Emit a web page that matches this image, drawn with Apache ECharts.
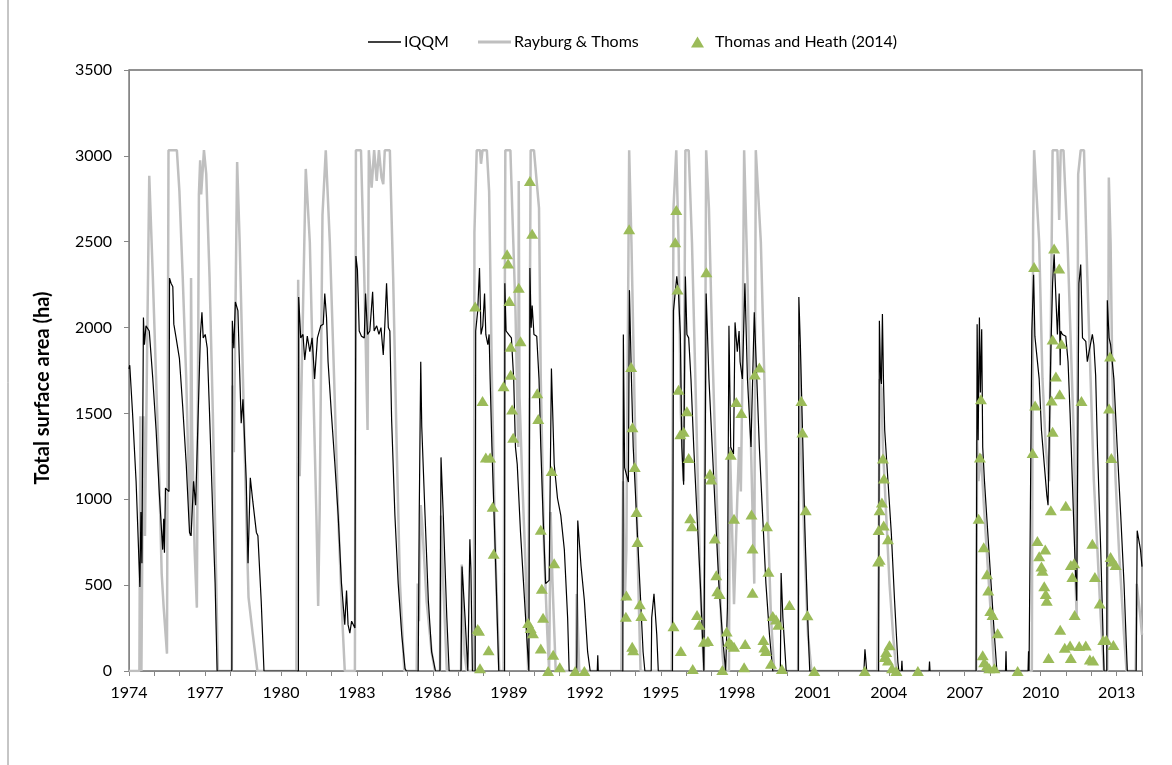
<!DOCTYPE html>
<html>
<head>
<meta charset="utf-8">
<script src="https://cdn.jsdelivr.net/npm/echarts@6/dist/echarts.min.js"></script>
<style>
html,body{margin:0;padding:0;background:#fff;}
#chart{width:1172px;height:765px;}
</style>
</head>
<body>
<div id="chart"></div>
<script>
// ---- data: [year, total surface area (ha)] ----
const iqqm = [
[1974.00,1760],[1974.03,1781],[1974.14,1503],[1974.28,1105],[1974.43,489],[1974.47,926],[1974.51,628],[1974.57,2059],[1974.61,1900],[1974.67,2010],[1974.80,1980],[1974.94,1701],[1975.07,1403],[1975.20,1026],[1975.33,707],[1975.37,886],[1975.40,688],[1975.44,1065],[1975.58,1045],[1975.60,2288],[1975.66,2258],[1975.73,2238],[1975.77,2020],[1975.86,1940],[1975.99,1821],[1976.12,1542],[1976.26,1204],[1976.39,807],[1976.45,787],[1976.55,1105],[1976.63,966],[1976.82,1960],[1976.88,2089],[1976.93,1940],[1977.01,1960],[1977.09,1880],[1977.18,1503],[1977.31,906],[1977.40,509],[1977.48,0],
[1978.06,0],[1978.08,2039],[1978.14,1880],[1978.20,2149],[1978.30,2099],[1978.43,1443],[1978.50,1582],[1978.63,1105],[1978.70,628],[1978.79,1125],[1978.89,986],[1979.03,807],[1979.09,787],[1979.22,409],[1979.33,0],
[1980.69,0],[1980.70,2178],[1980.78,1940],[1980.87,1960],[1980.94,1811],[1981.04,1950],[1981.14,1860],[1981.23,1940],[1981.33,1701],[1981.44,1940],[1981.57,2010],[1981.67,2020],[1981.73,2198],[1981.80,2059],[1981.86,1801],[1981.99,1503],[1982.13,1204],[1982.26,906],[1982.39,509],[1982.52,270],[1982.59,469],[1982.65,270],[1982.72,220],[1982.79,290],[1982.92,250],
[1982.96,2417],[1983.02,2338],[1983.09,1980],[1983.18,1950],[1983.29,1940],[1983.34,2198],[1983.42,1960],[1983.51,1980],[1983.62,2208],[1983.68,1980],[1983.78,2010],[1983.87,1960],[1983.95,2000],[1984.04,1841],[1984.10,2010],[1984.17,2258],[1984.24,2000],[1984.30,1980],[1984.37,1463],[1984.50,906],[1984.63,509],[1984.77,211],[1984.90,14],[1984.95,0],
[1985.42,0],[1985.46,906],[1985.52,1801],[1985.56,1423],[1985.69,906],[1985.82,409],[1985.95,111],[1986.10,0],
[1986.28,0],[1986.32,1244],[1986.41,906],[1986.55,310],[1986.64,0],
[1987.11,0],[1987.15,608],[1987.27,310],[1987.38,0],
[1987.42,0],[1987.46,767],[1987.50,600],[1987.56,0],
[1987.67,0],[1987.69,1980],[1987.77,2099],[1987.84,2347],[1987.90,1960],[1987.97,2010],[1988.04,2198],[1988.09,1960],[1988.17,1900],[1988.22,1960],[1988.26,1701],[1988.33,1304],[1988.46,707],[1988.60,0],
[1988.83,0],[1988.84,2258],[1988.89,1980],[1988.99,1960],[1989.10,1940],[1989.19,1701],[1989.26,1304],[1989.33,1204],[1989.46,807],[1989.66,310],[1989.79,0],
[1989.82,0],[1989.83,2347],[1989.88,1999],[1989.92,2129],[1989.99,1960],[1990.10,1950],[1990.19,1701],[1990.26,1304],[1990.35,906],[1990.45,509],[1990.59,528],[1990.68,1761],[1990.79,1204],[1990.92,1006],[1991.05,906],[1991.19,707],[1991.32,310],[1991.38,0],
[1991.68,0],[1991.72,876],[1991.85,610],[1991.98,412],[1992.11,111],[1992.21,0],
[1992.49,0],[1992.51,91],[1992.53,0],
[1993.50,0],[1993.52,1960],[1993.57,1184],[1993.72,1100],[1993.76,2218],[1993.84,1701],[1993.91,1304],[1994.04,906],[1994.17,509],[1994.30,111],[1994.37,0],
[1994.62,0],[1994.64,310],[1994.73,449],[1994.84,211],[1994.90,0],
[1995.46,0],[1995.50,2099],[1995.63,2298],[1995.70,2198],[1995.77,1960],[1995.83,1304],[1995.90,1085],[1995.97,2298],[1996.03,1960],[1996.10,1940],[1996.19,1701],[1996.30,1304],[1996.43,906],[1996.56,509],[1996.70,0],
[1996.77,0],[1996.79,2198],[1996.90,1701],[1997.03,1304],[1997.16,906],[1997.29,509],[1997.43,211],[1997.56,0],
[1997.62,0],[1997.63,372],[1997.69,2010],[1997.76,1304],[1997.87,1264],[1997.93,2030],[1998.02,1860],[1998.09,1980],[1998.13,1801],[1998.22,1701],[1998.32,2258],[1998.42,1701],[1998.56,1304],[1998.69,2089],[1998.79,1701],[1998.89,1304],[1999.02,906],[1999.15,509],[1999.29,211],[1999.42,0],
[1999.72,0],[1999.75,570],[1999.82,310],[1999.95,0],
[2000.43,0],[2000.45,2178],[2000.51,1900],[2000.61,1304],[2000.69,820],[2000.80,300],[2000.88,0],
[2003.02,0],[2003.06,127],[2003.13,0],
[2003.60,0],[2003.63,2039],[2003.68,1701],[2003.71,1672],[2003.75,2079],[2003.79,1701],[2003.84,1403],[2003.97,1105],[2004.10,807],[2004.23,409],[2004.36,52],[2004.40,0],
[2004.50,0],[2004.52,60],[2004.54,0],
[2005.59,0],[2005.61,55],[2005.63,0],
[2007.45,0],[2007.49,2019],[2007.53,1344],[2007.58,2059],[2007.62,1622],[2007.67,1990],[2007.71,1304],[2007.78,1105],[2007.91,807],[2008.04,509],[2008.17,211],[2008.27,0],
[2008.61,0],[2008.63,115],[2008.65,0],
[2009.50,0],[2009.52,115],[2009.54,0],
[2009.61,0],[2009.65,1980],[2009.72,2308],[2009.77,1950],[2009.84,1940],[2009.94,1701],[2010.03,1403],[2010.14,1204],[2010.24,1026],[2010.29,966],[2010.40,1860],[2010.47,2258],[2010.53,2427],[2010.60,2437],[2010.66,1960],[2010.73,2198],[2010.77,1781],[2010.79,1980],[2010.86,1960],[2010.99,1950],[2011.06,1940],[2011.08,1801],[2011.16,1503],[2011.25,1105],[2011.34,707],[2011.42,409],
[2011.51,2258],[2011.58,2367],[2011.65,1940],[2011.78,1920],[2011.84,1801],[2011.91,1860],[2012.04,1960],[2012.10,1900],[2012.17,1721],[2012.24,1304],[2012.37,707],[2012.50,0],
[2012.61,0],[2012.63,2159],[2012.70,1940],[2012.76,1900],[2012.89,1701],[2013.02,1304],[2013.16,906],[2013.29,509],[2013.42,0],
[2013.77,0],[2013.81,817],[2013.94,707],[2014.00,608]
];

const rayburgThoms = [
[1974.00,0],[1974.41,0],[1974.45,1483],[1974.49,0],[1974.53,807],[1974.57,1483],[1974.63,787],[1974.71,1800],[1974.80,2884],[1974.94,2298],[1975.07,1701],[1975.20,1105],[1975.29,568],[1975.37,369],[1975.50,101],[1975.56,3033],[1975.89,3033],[1975.99,2795],[1976.12,2298],[1976.26,1701],[1976.36,1105],[1976.43,787],[1976.45,2288],[1976.49,1400],[1976.59,707],[1976.68,369],[1976.76,2775],[1976.81,2974],[1976.85,2775],[1976.96,3033],[1977.05,2894],[1977.18,2298],[1977.31,1503],[1977.42,707],[1977.51,0],
[1978.06,0],[1978.09,1662],[1978.14,1274],[1978.27,2964],[1978.37,2497],[1978.50,1701],[1978.63,906],[1978.72,429],[1978.89,211],[1979.07,0],
[1980.61,0],[1980.68,2278],[1980.74,1135],[1980.98,2924],[1981.14,2497],[1981.27,1701],[1981.40,906],[1981.47,379],[1981.53,946],[1981.64,2656],[1981.77,3033],[1981.93,2497],[1982.10,1701],[1982.26,906],[1982.42,310],[1982.52,0],
[1982.92,0],[1982.96,3033],[1983.16,3033],[1983.29,2298],[1983.42,1403],[1983.47,3033],[1983.58,2815],[1983.68,3033],[1983.78,2854],[1983.87,3033],[1983.97,2874],[1984.04,2835],[1984.10,3033],[1984.30,3033],[1984.43,2298],[1984.57,1304],[1984.70,509],[1984.87,0],
[1985.36,0],[1985.40,509],[1985.45,290],[1985.52,966],[1985.58,850],[1985.75,409],[1985.95,111],[1986.08,0],
[1986.28,0],[1986.32,906],[1986.41,509],[1986.55,0],
[1987.11,0],[1987.14,620],[1987.25,100],[1987.34,0],
[1987.62,0],[1987.64,2556],[1987.73,3033],[1987.86,3033],[1987.90,2954],[1987.96,3033],[1988.13,3033],[1988.22,2795],[1988.33,1701],[1988.46,707],[1988.62,0],
[1988.79,0],[1988.86,3033],[1989.06,3033],[1989.26,2099],[1989.37,1304],[1989.39,2854],[1989.42,1600],[1989.53,1105],[1989.66,608],[1989.76,0],
[1989.79,0],[1989.86,3033],[1989.99,3033],[1990.19,2695],[1990.26,1701],[1990.39,707],[1990.52,211],[1990.59,0],[1990.65,926],[1990.72,528],[1990.85,0],
[1991.65,0],[1991.68,449],[1991.78,0],
[1993.44,0],[1993.51,1105],[1993.58,409],[1993.64,707],[1993.75,3033],[1993.84,2497],[1993.97,1503],[1994.11,509],[1994.20,0],
[1995.43,0],[1995.50,2695],[1995.61,3033],[1995.70,2497],[1995.79,1503],[1995.90,1105],[1995.97,3033],[1996.10,3033],[1996.23,2497],[1996.43,1304],[1996.56,509],[1996.70,0],
[1996.76,0],[1996.79,3033],[1996.90,2695],[1997.03,1900],[1997.23,906],[1997.43,111],[1997.49,0],
[1997.69,0],[1997.73,1304],[1997.89,389],[1998.02,1005],[1998.09,1304],[1998.16,1045],[1998.22,1701],[1998.29,3033],[1998.36,3033],[1998.42,2298],[1998.56,1304],[1998.69,509],[1998.75,3033],[1998.82,3033],[1998.95,2497],[1999.09,1701],[1999.22,906],[1999.35,310],[1999.48,0],
[2000.42,0],[2000.48,1900],[2000.55,1304],[2000.68,707],[2000.81,211],[2000.95,0],
[2003.55,0],[2003.60,608],[2003.64,1701],[2003.71,1642],[2003.77,1304],[2003.90,906],[2004.03,509],[2004.17,211],[2004.30,0],
[2007.45,0],[2007.49,1344],[2007.54,1105],[2007.64,1264],[2007.78,906],[2007.91,608],[2008.04,310],[2008.17,0],
[2009.65,0],[2009.70,2596],[2009.74,3033],[2009.81,3033],[2009.94,2497],[2010.07,1701],[2010.20,1304],[2010.33,1105],[2010.40,1999],[2010.47,3033],[2010.66,3033],[2010.73,2626],[2010.79,3033],[2010.90,3033],[2011.06,2497],[2011.19,1900],[2011.32,1304],[2011.38,509],[2011.42,310],[2011.48,2894],[2011.58,3033],[2011.71,3033],[2011.84,2298],[2011.97,1701],[2012.10,1105],[2012.24,707],[2012.37,310],[2012.50,0],
[2012.63,0],[2012.69,2874],[2012.76,2497],[2012.83,1701],[2012.96,1105],[2013.09,707],[2013.29,211],[2013.39,0],
[2013.75,0],[2013.79,508],[2013.94,310],[2014.00,211]
];

const thomasHeath = [
[1987.67,2123],[1987.96,1572],[1988.09,1244],[1988.26,1244],[1988.36,956],[1988.40,683],[1987.77,244],[1987.82,234],[1988.20,121],[1987.86,16],
[1988.93,2427],[1988.97,2373],[1989.02,2155],[1989.39,2232],[1989.07,1888],[1989.46,1920],[1989.07,1725],[1988.79,1658],[1989.13,1523],[1989.17,1358],
[1989.83,2854],[1989.92,2546],[1990.12,1618],[1990.16,1467],[1990.69,1165],[1990.26,823],[1990.79,628],[1990.30,479],[1990.35,310],[1989.76,280],[1989.86,250],[1989.95,220],[1990.26,131],[1990.75,95],[1991.01,22],[1990.55,0],[1991.62,0],[1991.98,0],
[1993.75,2572],[1993.64,439],[1993.62,316],[1994.17,389],[1994.23,320],[1993.83,1771],[1993.88,1419],[1993.97,1188],[1994.04,926],[1994.08,751],[1993.87,141],[1993.91,121],
[1995.61,2685],[1995.57,2497],[1995.66,2222],[1996.80,2322],[1995.70,1638],[1996.03,1512],[1996.10,1240],[1995.77,1379],[1995.90,1393],[1996.16,890],[1996.23,843],[1995.50,260],[1995.79,117],[1996.26,12],[1996.43,326],[1996.52,270],[1996.70,171],[1996.86,175],
[1996.94,1149],[1996.99,1115],[1997.13,771],[1997.19,558],[1997.23,465],[1997.32,449],[1997.43,6],[1997.60,230],[1997.69,171],[1997.79,155],[1997.89,141],[1998.33,157],[1997.76,1260],[1997.89,886],[1997.98,1566],[1998.18,1503],
[1998.58,912],[1998.62,713],[1998.62,455],[1998.71,1727],[1998.89,1767],[1999.19,843],[1999.25,578],[1999.05,181],[1999.09,137],[1999.15,117],[1999.42,320],[1999.55,300],[1999.64,270],[1999.35,42],[1999.78,12],[2000.08,385],[1998.29,22],
[2000.55,1572],[2000.59,1389],[2000.72,936],[2000.79,324],[2001.06,0],
[2003.05,0],[2003.77,1238],[2003.81,1121],[2003.73,982],[2003.64,936],[2003.80,847],[2003.60,821],[2003.97,767],[2003.64,648],[2003.58,638],[2004.03,150],[2003.90,111],[2003.84,81],[2003.97,61],[2004.13,16],[2004.30,0],[2005.15,0],
[2007.64,1582],[2007.60,1244],[2007.55,886],[2007.75,721],[2007.88,564],[2007.93,469],[2008.01,350],[2008.10,326],[2008.30,220],[2007.71,91],[2007.77,51],[2007.88,31],[2007.97,16],[2008.17,16],[2009.09,0],
[2009.74,2353],[2009.78,1546],[2009.68,1270],[2009.87,757],[2010.18,707],[2009.94,668],[2010.03,608],[2010.07,584],[2010.14,493],[2010.20,449],[2010.24,409],[2010.31,75],[2010.40,936],
[2010.53,2461],[2010.73,2344],[2010.47,1930],[2010.82,1906],[2010.60,1715],[2010.43,1576],[2010.75,1612],[2010.47,1393],[2010.77,240],[2010.99,962],[2011.19,618],[2011.32,628],[2011.25,548],[2010.95,135],[2011.16,149],[2011.19,75],[2011.52,145],[2011.78,149],[2011.61,1572],[2011.34,326],
[2011.94,67],[2012.07,61],[2012.04,741],[2012.14,548],[2012.33,393],[2012.47,181],[2012.59,181],[2012.87,151],[2012.74,1831],[2012.70,1528],[2012.79,1240],[2012.76,664],[2012.83,638],[2012.96,618]
];

const xLabelYears = [1974,1977,1980,1983,1986,1989,1992,1995,1998,2001,2004,2007,2010,2013];
const seriesNames = ['IQQM','Rayburg & Thoms','Thomas and Heath (2014)'];
const yAxisTitle = 'Total surface area (ha)';

const FONT = 'Lato, "Open Sans", sans-serif';
const chart = echarts.init(document.getElementById('chart'), null, {renderer:'canvas'});
const legendText = {fontFamily: FONT, fontSize: 16, color: '#000', padding: [0, 0, 0, -2]};
chart.setOption({
  animation: false,
  backgroundColor: '#fff',
  grid: {left: 129, right: 30, top: 70, bottom: 94, show: true, borderColor: '#6e6e6e', borderWidth: 1.3},
  legend: [
    {data: [{name: seriesNames[0], icon: 'rect'}], left: 363, top: 29, itemWidth: 33, itemHeight: 1.4, itemGap: 0, textStyle: legendText},
    {data: [{name: seriesNames[1], icon: 'rect'}], left: 473, top: 29, itemWidth: 33, itemHeight: 3, itemGap: 0, textStyle: legendText},
    {data: [seriesNames[2]], left: 686, top: 29, itemWidth: 13, itemHeight: 11, itemGap: 0, textStyle: {fontFamily: FONT, fontSize: 16, color: '#000', padding: [0,0,0,6]}}
  ],
  xAxis: {
    type: 'value', min: 1974, max: 2014, interval: 1,
    axisLine: {show: true, onZero: false, lineStyle: {color: '#868686', width: 1}},
    axisTick: {show: true, length: 5, lineStyle: {color: '#868686'}},
    splitLine: {show: false},
    axisLabel: {
      margin: 14, fontFamily: FONT, fontSize: 16, color: '#000',
      formatter: v => xLabelYears.includes(Math.round(v)) ? String(Math.round(v)) : ''
    }
  },
  yAxis: {
    type: 'value', min: 0, max: 3500, interval: 500,
    axisLine: {show: true, lineStyle: {color: '#868686', width: 1}},
    axisTick: {show: true, length: 5, lineStyle: {color: '#868686'}},
    splitLine: {show: false},
    axisLabel: {margin: 17, fontFamily: FONT, fontSize: 16, color: '#000', formatter: v => String(v)}
  },
  graphic: [
    {type: 'line', shape: {x1: 8, y1: 0, x2: 8, y2: 765}, style: {stroke: '#8c8c8c', lineWidth: 1}},
    {type: 'text', x: 43, y: 388, rotation: Math.PI / 2,
     style: {text: yAxisTitle, fontFamily: FONT, fontSize: 20, fontWeight: 'bold', fill: '#000', align: 'center', verticalAlign: 'middle'}}
  ],
  series: [
    {name: seriesNames[1], type: 'line', data: rayburgThoms, symbol: 'none', showSymbol: false,
     lineStyle: {color: '#BFBFBF', width: 2.5}, itemStyle: {color: '#BFBFBF'}, z: 1},
    {name: seriesNames[0], type: 'line', data: iqqm, symbol: 'none', showSymbol: false,
     lineStyle: {color: '#000000', width: 1.2}, itemStyle: {color: '#000000'}, z: 2},
    {name: seriesNames[2], type: 'scatter', data: thomasHeath, symbol: 'triangle', symbolSize: [12, 10],
     itemStyle: {color: '#9BBB59', opacity: 1}, z: 3}
  ]
});
</script>
</body>
</html>
